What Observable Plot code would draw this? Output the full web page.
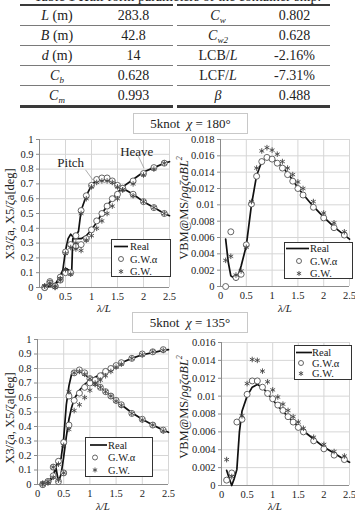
<!DOCTYPE html>
<html>
<head>
<meta charset="utf-8">
<script src="https://cdn.jsdelivr.net/npm/d3@7"></script>
<script src="https://cdn.jsdelivr.net/npm/@observablehq/plot@0.6"></script>
<style>
  body { margin: 0; background: #fff; }
  #fig { position: relative; width: 355px; height: 513px; overflow: hidden;
         font-family: "Liberation Serif", "DejaVu Serif", serif; color: #222; }
  .abs { position: absolute; }
  .cap { left: 0; width: 355px; top: -11px; text-align: center; font-size: 14px; white-space: nowrap; }
  table.hp { position: absolute; top: 4px; border-collapse: collapse; font-size: 14px; table-layout: fixed;
             border-top: 2px solid #3a3a3a; border-bottom: 3px solid #3a3a3a; background: #fff; }
  table.hp td { height: 19px; padding: 0; text-align: center; border-bottom: 1px solid #7a7a7a;
                line-height: 19px; white-space: nowrap; overflow: hidden; }
  table.hp tr:last-child td { border-bottom: none; }
  table.hp sub { font-size: 9px; line-height: 0; vertical-align: baseline; position: relative; top: 3px; }
  .title { border: 1px solid #c8c8c8; background: #fff; text-align: center; font-size: 13px;
           line-height: 19px; white-space: nowrap; z-index: 3; }
  .ylab { transform: translate(-50%, -50%) rotate(-90deg); white-space: nowrap; font-size: 12.5px; z-index: 2; }
  .ylab sup { font-size: 8px; line-height: 0; }
  .xlab { transform: translate(-50%, -50%); white-space: nowrap; font-size: 11px; font-style: italic; z-index: 2; }
  .chart { position: absolute; z-index: 1; }
  .legend { position: absolute; z-index: 2; }
  i { font-style: italic; }
</style>
</head>
<body>
<div id="fig"></div>
<script>
// ---------- table of hull form parameters ----------
const tableCaption = "Table 1  Hull form parameters of the container ship.";
const leftNames  = ["<i>L</i> (m)", "<i>B</i> (m)", "<i>d</i> (m)", "<i>C<sub>b</sub></i>", "<i>C<sub>m</sub></i>"];
const leftValues = ["283.8", "42.8", "14", "0.628", "0.993"];
const rightNames  = ["<i>C<sub>w</sub></i>", "<i>C<sub>w2</sub></i>", "LCB/<i>L</i>", "LCF/<i>L</i>", "<i>β</i>"];
const rightValues = ["0.802", "0.628", "-2.16%", "-7.31%", "0.488"];

// ---------- common axes ----------
const xTicks = [0, 0.5, 1, 1.5, 2, 2.5];
const motionTicks = [0, 0.1, 0.2, 0.3, 0.4, 0.5, 0.6, 0.7, 0.8, 0.9, 1];
const vbm180Ticks = [0, 0.002, 0.004, 0.006, 0.008, 0.01, 0.012, 0.014, 0.016, 0.018];
const vbm135Ticks = [0, 0.002, 0.004, 0.006, 0.008, 0.01, 0.012, 0.014, 0.016];
const lambdaPts = [0.1, 0.2, 0.3, 0.4, 0.5, 0.6, 0.7, 0.8, 0.9, 1.0, 1.1, 1.2, 1.3, 1.4, 1.5, 1.6, 1.8, 2.0, 2.2, 2.4];

// ---------- 5 knot, heading 180° : heave / pitch ----------
const pitch180Alpha = [0.00, 0.04, 0.01, 0.07, 0.24, 0.29, 0.35, 0.52, 0.62, 0.69, 0.73, 0.74, 0.74, 0.72, 0.69, 0.67, 0.63, 0.58, 0.54, 0.50];
const pitch180GW    = [0.01, 0.02, 0.00, 0.06, 0.23, 0.27, 0.30, 0.50, 0.60, 0.68, 0.71, 0.72, 0.72, 0.71, 0.68, 0.66, 0.62, 0.58, 0.54, 0.50];
const heave180Alpha = [0.00, 0.03, 0.01, 0.05, 0.10, 0.10, 0.28, 0.29, 0.33, 0.39, 0.45, 0.50, 0.55, 0.60, 0.63, 0.67, 0.72, 0.77, 0.81, 0.84];
const heave180GW    = [0.01, 0.03, 0.01, 0.05, 0.12, 0.09, 0.26, 0.25, 0.32, 0.35, 0.40, 0.45, 0.50, 0.55, 0.60, 0.66, 0.70, 0.76, 0.80, 0.84];
const pitch180RealX = [0.1, 0.2, 0.3, 0.35, 0.4, 0.45, 0.5, 0.55, 0.6, 0.65, 0.7, 0.75, 0.8, 0.9, 1.0, 1.1, 1.2, 1.3, 1.4, 1.5, 1.6, 1.8, 2.0, 2.2, 2.4, 2.5];
const pitch180Real  = [0.00, 0.01, 0.02, 0.05, 0.08, 0.12, 0.25, 0.33, 0.36, 0.34, 0.35, 0.38, 0.52, 0.62, 0.69, 0.73, 0.745, 0.74, 0.72, 0.695, 0.67, 0.63, 0.58, 0.54, 0.50, 0.485];
const heave180RealX = [0.1, 0.2, 0.3, 0.4, 0.45, 0.5, 0.55, 0.6, 0.62, 0.64, 0.7, 0.8, 0.9, 1.0, 1.1, 1.2, 1.3, 1.4, 1.5, 1.6, 1.8, 2.0, 2.2, 2.4, 2.5];
const heave180Real  = [0.00, 0.01, 0.02, 0.06, 0.10, 0.13, 0.12, 0.11, 0.11, 0.33, 0.33, 0.33, 0.35, 0.39, 0.44, 0.50, 0.55, 0.60, 0.64, 0.68, 0.73, 0.78, 0.81, 0.84, 0.85];
const motion180Notes   = [{x: 0.6, y: 0.845, text: "Pitch"}, {x: 1.87, y: 0.92, text: "Heave"}];
const motion180Leaders = [{x1: 0.885, y1: 0.795, x2: 1.03, y2: 0.725}, {x1: 1.9, y1: 0.887, x2: 2.01, y2: 0.806}];

// ---------- 5 knot, heading 180° : vertical bending moment at midship ----------
const vbm180Alpha = [0.0000, 0.0067, 0.0011, 0.0015, 0.0051, 0.0101, 0.0135, 0.0153, 0.0158, 0.0156, 0.0151, 0.0145, 0.0137, 0.0129, 0.0120, 0.0112, 0.0097, 0.0084, 0.0072, 0.0063];
const vbm180GW    = [0.0032, 0.0037, 0.0014, 0.0019, 0.0048, 0.0104, 0.0145, 0.0166, 0.0170, 0.0167, 0.0162, 0.0153, 0.0145, 0.0137, 0.0128, 0.0120, 0.0104, 0.0090, 0.0078, 0.0067];
const vbm180RealX = [0.1, 0.15, 0.2, 0.25, 0.3, 0.35, 0.4, 0.5, 0.6, 0.7, 0.8, 0.9, 1.0, 1.1, 1.2, 1.3, 1.4, 1.5, 1.6, 1.8, 2.0, 2.2, 2.4, 2.5];
const vbm180Real  = [0.0058, 0.0030, 0.0013, 0.0011, 0.0008, 0.0015, 0.0025, 0.0050, 0.0100, 0.0136, 0.0153, 0.0158, 0.0157, 0.0152, 0.0146, 0.0139, 0.0130, 0.0121, 0.0113, 0.0098, 0.0085, 0.0073, 0.0063, 0.0058];

// ---------- 5 knot, heading 135° : heave / pitch ----------
const pitch135Alpha = [0.00, 0.02, 0.12, 0.02, 0.29, 0.61, 0.77, 0.79, 0.77, 0.73, 0.70, 0.67, 0.64, 0.61, 0.58, 0.55, 0.49, 0.45, 0.41, 0.375];
const pitch135GW    = [0.01, 0.02, 0.12, 0.14, 0.27, 0.64, 0.77, 0.78, 0.76, 0.73, 0.70, 0.67, 0.64, 0.61, 0.575, 0.545, 0.49, 0.445, 0.41, 0.37];
const heave135Alpha = [0.00, 0.02, 0.06, 0.16, 0.08, 0.41, 0.58, 0.63, 0.67, 0.70, 0.72, 0.75, 0.78, 0.80, 0.82, 0.84, 0.87, 0.90, 0.915, 0.93];
const heave135GW    = [0.00, 0.01, 0.05, 0.03, 0.08, 0.38, 0.51, 0.55, 0.60, 0.65, 0.69, 0.72, 0.75, 0.78, 0.81, 0.83, 0.87, 0.895, 0.915, 0.925];
const pitch135RealX = [0.1, 0.2, 0.3, 0.35, 0.4, 0.45, 0.5, 0.55, 0.6, 0.65, 0.7, 0.8, 0.9, 1.0, 1.1, 1.2, 1.3, 1.4, 1.5, 1.6, 1.8, 2.0, 2.2, 2.4, 2.5];
const pitch135Real  = [0.00, 0.02, 0.06, 0.12, 0.17, 0.18, 0.32, 0.55, 0.68, 0.76, 0.775, 0.785, 0.76, 0.73, 0.70, 0.67, 0.64, 0.61, 0.58, 0.55, 0.495, 0.45, 0.41, 0.375, 0.36];
const heave135RealX = [0.1, 0.2, 0.3, 0.35, 0.4, 0.45, 0.5, 0.55, 0.6, 0.65, 0.7, 0.8, 0.9, 1.0, 1.1, 1.2, 1.3, 1.4, 1.5, 1.6, 1.8, 2.0, 2.2, 2.4, 2.5];
const heave135Real  = [0.00, 0.01, 0.05, 0.12, 0.02, 0.07, 0.19, 0.33, 0.45, 0.53, 0.59, 0.65, 0.69, 0.72, 0.74, 0.76, 0.78, 0.80, 0.82, 0.84, 0.87, 0.895, 0.91, 0.925, 0.93];

// ---------- 5 knot, heading 135° : vertical bending moment at midship ----------
const vbm135Alpha = [0.0006, 0.0014, 0.0071, 0.0074, 0.0102, 0.0117, 0.0117, 0.0110, 0.0103, 0.0097, 0.0090, 0.0084, 0.0077, 0.0071, 0.0065, 0.0060, 0.0050, 0.0041, 0.0034, 0.0029];
const vbm135GW    = [0.0029, 0.0010, null, 0.0078, 0.0114, 0.0141, 0.0140, 0.0128, 0.0116, 0.0107, 0.0099, 0.0091, 0.0084, 0.0077, 0.0071, 0.0064, 0.0054, 0.0046, 0.0038, 0.0033];
const vbm135RealX = [0.1, 0.15, 0.2, 0.25, 0.3, 0.35, 0.4, 0.5, 0.6, 0.7, 0.8, 0.9, 1.0, 1.1, 1.2, 1.3, 1.4, 1.5, 1.6, 1.8, 2.0, 2.2, 2.4, 2.5];
const vbm135Real  = [0.0017, 0.0008, 0.0000, 0.0008, 0.0018, 0.0060, 0.0083, 0.0100, 0.0110, 0.0113, 0.0110, 0.0103, 0.0096, 0.0089, 0.0083, 0.0077, 0.0071, 0.0066, 0.0061, 0.0052, 0.0043, 0.0036, 0.0029, 0.0026];

const legendNames = ["Real", "G.W.α", "G.W."];

// ---------- helpers ----------
const fig = document.getElementById("fig");
const pts = (xs, ys) => xs.map((x, i) => ({x, y: ys[i]})).filter(d => d.y != null);
const fmt = d => String(+d.toFixed(4));
const serif = '"Liberation Serif", "DejaVu Serif", serif';
const gwR = 2.6;
const gwSymbolSize = Math.PI * gwR * gwR;

function add(html, cls, style) {
  const el = document.createElement("div");
  el.className = cls;
  el.innerHTML = html;
  Object.assign(el.style, style);
  fig.appendChild(el);
  return el;
}

// table
add(tableCaption, "abs cap", {});
function buildTable(names, values, left, w1, w2) {
  const rows = names.map((n, i) => `<tr><td style="width:${w1}px">${n}</td><td style="width:${w2}px">${values[i]}</td></tr>`).join("");
  const t = document.createElement("table");
  t.className = "hp";
  t.style.left = left + "px";
  t.style.width = (w1 + w2) + "px";
  t.innerHTML = rows;
  fig.appendChild(t);
}
buildTable(leftNames, leftValues, 20, 74, 79);
buildTable(rightNames, rightValues, 177, 82, 71);

// charts
function chart({left, top, width, height, margins, yTicks, lines, alphas, gws, extra = []}) {
  const [mt, mr, mb, ml] = margins;
  const yDomain = [yTicks[0], yTicks[yTicks.length - 1]];
  const svg = Plot.plot({
    width, height,
    marginTop: mt, marginRight: mr, marginBottom: mb, marginLeft: ml,
    x: {domain: [0, 2.5]},
    y: {domain: yDomain},
    style: {fontFamily: serif, fontSize: "10.5px", color: "#222", background: "transparent", overflow: "visible"},
    marks: [
      Plot.gridX(xTicks, {stroke: "#d6d6d6", strokeOpacity: 1}),
      Plot.gridY(yTicks, {stroke: "#d6d6d6", strokeOpacity: 1}),
      Plot.ruleX([0], {stroke: "#8c8c8c"}),
      Plot.ruleY([yDomain[0]], {stroke: "#8c8c8c"}),
      Plot.axisX(xTicks, {tickSize: 0, tickPadding: 5, tickFormat: fmt, label: null}),
      Plot.axisY(yTicks, {tickSize: 3, tickPadding: 3, tickFormat: fmt, label: null, stroke: "#8c8c8c"}),
      ...lines.map(d => Plot.line(d, {x: "x", y: "y", stroke: "#111", strokeWidth: 1.7})),
      ...alphas.map(d => Plot.dot(d, {x: "x", y: "y", r: 3, stroke: "#555", strokeWidth: 0.9, fill: "white"})),
      ...gws.map(d => Plot.dot(d, {x: "x", y: "y", r: gwR, symbol: "asterisk", stroke: "#444", strokeWidth: 0.9})),
      ...extra
    ]
  });
  const wrap = document.createElement("div");
  wrap.className = "chart";
  wrap.style.left = left + "px";
  wrap.style.top = top + "px";
  wrap.appendChild(svg);
  fig.appendChild(wrap);
}

function legend({left, top, width, height, first, step, lineX1, lineX2, markX, textX}) {
  const ast = d3.symbol(d3.symbolAsterisk, gwSymbolSize * 0.8)();
  const y = i => first + step * i;
  const svg = `<svg width="${width}" height="${height}" style="display:block;font-family:${serif.replace(/"/g, "'")};font-size:10.5px">
    <rect x="0.5" y="0.5" width="${width - 1}" height="${height - 1}" fill="#fff" stroke="#333" stroke-width="1"/>
    <line x1="${lineX1}" x2="${lineX2}" y1="${y(0)}" y2="${y(0)}" stroke="#111" stroke-width="1.7"/>
    <circle cx="${markX}" cy="${y(1)}" r="2.5" fill="#fff" stroke="#555" stroke-width="0.9"/>
    <path d="${ast}" transform="translate(${markX},${y(2)})" fill="none" stroke="#444" stroke-width="0.9"/>
    ${legendNames.map((n, i) => `<text x="${textX}" y="${y(i)}" dy="0.35em" fill="#222">${n}</text>`).join("")}
  </svg>`;
  add(svg, "legend", {left: left + "px", top: top + "px"});
}

// χ = 180°, motions
chart({
  left: 0, top: 130, width: 178, height: 180, margins: [9, 9, 23, 39], yTicks: motionTicks,
  lines: [pts(pitch180RealX, pitch180Real), pts(heave180RealX, heave180Real)],
  alphas: [pts(lambdaPts, pitch180Alpha), pts(lambdaPts, heave180Alpha)],
  gws: [pts(lambdaPts, pitch180GW), pts(lambdaPts, heave180GW)],
  extra: [
    Plot.link(motion180Leaders, {x1: "x1", y1: "y1", x2: "x2", y2: "y2", stroke: "#999", strokeWidth: 0.8}),
    Plot.text(motion180Notes, {x: "x", y: "y", text: "text", fontSize: 13, fill: "#222"})
  ]
});
// χ = 180°, VBM
chart({
  left: 178, top: 130, width: 177, height: 180, margins: [9, 6, 24, 42], yTicks: vbm180Ticks,
  lines: [pts(vbm180RealX, vbm180Real)],
  alphas: [pts(lambdaPts, vbm180Alpha)],
  gws: [pts(lambdaPts, vbm180GW)]
});
// χ = 135°, motions
chart({
  left: 0, top: 330, width: 178, height: 175, margins: [9, 10, 21, 37], yTicks: motionTicks,
  lines: [pts(pitch135RealX, pitch135Real), pts(heave135RealX, heave135Real)],
  alphas: [pts(lambdaPts, pitch135Alpha), pts(lambdaPts, heave135Alpha)],
  gws: [pts(lambdaPts, pitch135GW), pts(lambdaPts, heave135GW)]
});
// χ = 135°, VBM
chart({
  left: 178, top: 330, width: 177, height: 175, margins: [12, 6, 20, 43], yTicks: vbm135Ticks,
  lines: [pts(vbm135RealX, vbm135Real)],
  alphas: [pts(lambdaPts, vbm135Alpha)],
  gws: [pts(lambdaPts, vbm135GW)]
});

// legends
legend({left: 111, top: 239, width: 60, height: 38, first: 7.5, step: 12.5, lineX1: 3, lineX2: 17, markX: 10, textX: 19});
legend({left: 284, top: 242, width: 69, height: 37, first: 6.5, step: 12.5, lineX1: 2, lineX2: 25, markX: 15, textX: 26});
legend({left: 85, top: 437, width: 68, height: 40, first: 8, step: 12.5, lineX1: 5, lineX2: 22, markX: 10, textX: 23});
legend({left: 294, top: 345, width: 58, height: 35, first: 7.5, step: 10.5, lineX1: 2, lineX2: 18, markX: 7, textX: 18});

// axis titles
const motionLabel = "X3/ζa, X5/ζa[deg]";
const vbmLabel = "VBM@MS/<i>ρgζaBL</i><sup><i>2</i></sup>";
const lambdaLabel = "λ/L";
add(motionLabel, "abs ylab", {left: "10px", top: "214px"});
add(vbmLabel, "abs ylab", {left: "184px", top: "208px"});
add(motionLabel, "abs ylab", {left: "10px", top: "418px"});
add(vbmLabel, "abs ylab", {left: "184px", top: "407px"});
add(lambdaLabel, "abs xlab", {left: "104px", top: "308px"});
add(lambdaLabel, "abs xlab", {left: "285px", top: "308px"});
add(lambdaLabel, "abs xlab", {left: "103px", top: "506px"});
add(lambdaLabel, "abs xlab", {left: "275px", top: "506px"});

// condition titles
add("5knot&nbsp; <i>χ</i> = 180°", "abs title", {left: "133px", top: "113px", width: "113px", height: "19px"});
add("5knot&nbsp; <i>χ</i> = 135°", "abs title", {left: "132px", top: "312px", width: "114px", height: "19px"});
</script>
</body>
</html>
